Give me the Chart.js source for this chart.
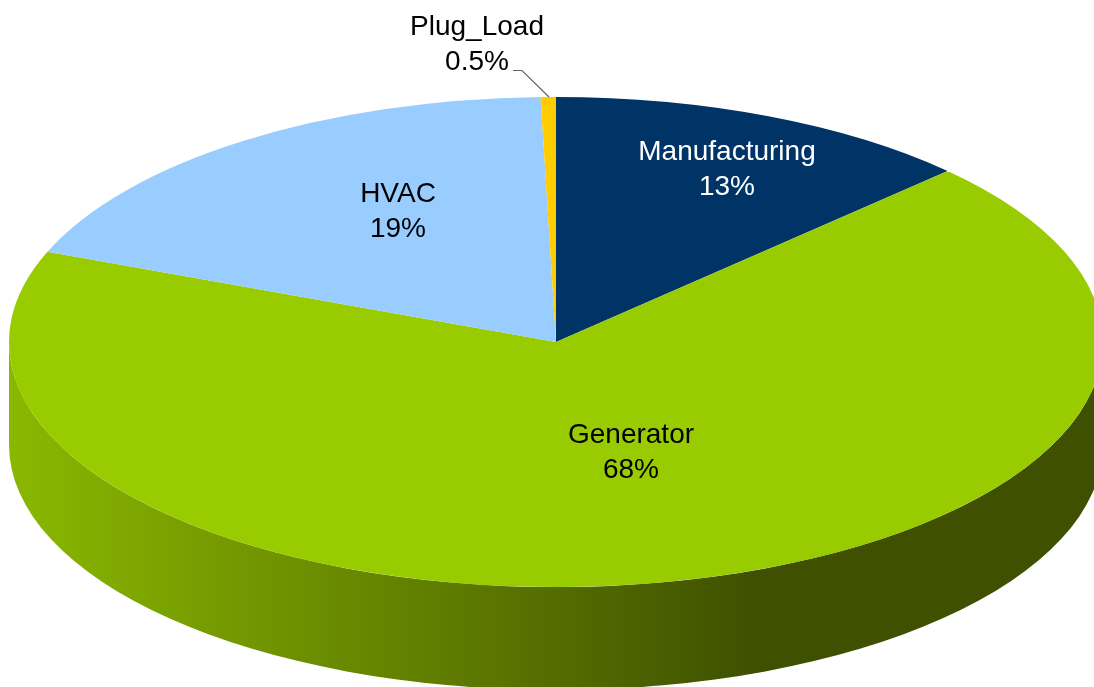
<!DOCTYPE html>
<html>
<head>
<meta charset="utf-8">
<title>Energy use by category</title>
<script src="https://cdn.jsdelivr.net/npm/chart.js@4"></script>
<style>
  html, body { margin: 0; padding: 0; background: #fff; overflow: hidden; }
  canvas { display: block; }
</style>
</head>
<body>
<canvas id="pie" width="1094" height="687"></canvas>
<script>
const categories = ["Manufacturing", "Generator", "HVAC", "Plug_Load"]
const shares = [12.7, 68.3, 18.55, 0.45]
const shareLabels = ["13%", "68%", "19%", "0.5%"]
const sliceColors = ["#003366", "#99CC00", "#99CCFF", "#FFCC00"]

// 3D look: the flat pie gets squashed, then a wall is put under it
const centerX = 556
const centerY = 342
const pieRadius = 547
const squash = 0.448
const wallDepth = 103

// label centres, one pair of lines per slice
const labelSpots = [
  { x: 727, y: 170 },
  { x: 631, y: 453 },
  { x: 398, y: 212 },
  { x: 477, y: 45 },
]
const labelLineGap = 35.5

const wallShades = {
  "#003366": [[0, "#003366"], [1, "#001a33"]],
  "#99CC00": [[0, "#8AB800"], [0.686, "#3F5000"], [1, "#3F5000"]],
  "#99CCFF": [[0, "#7FA8D0"], [1, "#7FA8D0"]],
  "#FFCC00": [[0, "#B89000"], [1, "#B89000"]],
}

const tiltPlugin = {
  id: "tilt",
  beforeDatasetsDraw(chart) {
    const ctx = chart.ctx
    const arcs = chart.getDatasetMeta(0).data

    // wall, only the part of each slice that faces the viewer
    arcs.forEach((arc, i) => {
      const from = Math.max(arc.startAngle, 0)
      const to = Math.min(arc.endAngle, Math.PI)
      if (to <= from) return
      const grad = ctx.createLinearGradient(centerX - pieRadius, 0, centerX + pieRadius, 0)
      wallShades[sliceColors[i]].forEach(s => grad.addColorStop(s[0], s[1]))
      ctx.beginPath()
      ctx.ellipse(centerX, centerY, arc.outerRadius, arc.outerRadius * squash, 0, from, to)
      ctx.ellipse(centerX, centerY + wallDepth, arc.outerRadius, arc.outerRadius * squash, 0, to, from, true)
      ctx.closePath()
      ctx.fillStyle = grad
      ctx.fill()
    })

    ctx.save()
    ctx.translate(centerX, centerY)
    ctx.scale(1, squash)
    ctx.translate(-arcs[0].x, -arcs[0].y)
  },
  afterDatasetsDraw(chart) {
    const ctx = chart.ctx
    ctx.restore()

    // leader line for the thin slice
    ctx.beginPath()
    ctx.moveTo(513, 70.5)
    ctx.lineTo(522, 70.5)
    ctx.lineTo(549, 97)
    ctx.strokeStyle = "#666666"
    ctx.lineWidth = 1.2
    ctx.stroke()

    ctx.font = '28px "Liberation Sans", Arial, sans-serif'
    ctx.textAlign = "center"
    ctx.textBaseline = "middle"
    categories.forEach((name, i) => {
      const spot = labelSpots[i]
      ctx.fillStyle = i === 0 ? "#ffffff" : "#000000"
      ctx.fillText(name, spot.x, spot.y - labelLineGap / 2)
      ctx.fillText(shareLabels[i], spot.x, spot.y + labelLineGap / 2)
    })
  },
}

new Chart(document.getElementById("pie").getContext("2d"), {
  type: "pie",
  data: {
    labels: categories,
    datasets: [
      {
        data: shares,
        backgroundColor: sliceColors,
        borderWidth: 0,
        clip: false,
      },
    ],
  },
  options: {
    responsive: false,
    animation: false,
    events: [],
    radius: pieRadius,
    rotation: 0,
    layout: { padding: 0 },
    plugins: {
      legend: { display: false },
      tooltip: { enabled: false },
    },
  },
  plugins: [tiltPlugin],
})
</script>
</body>
</html>
